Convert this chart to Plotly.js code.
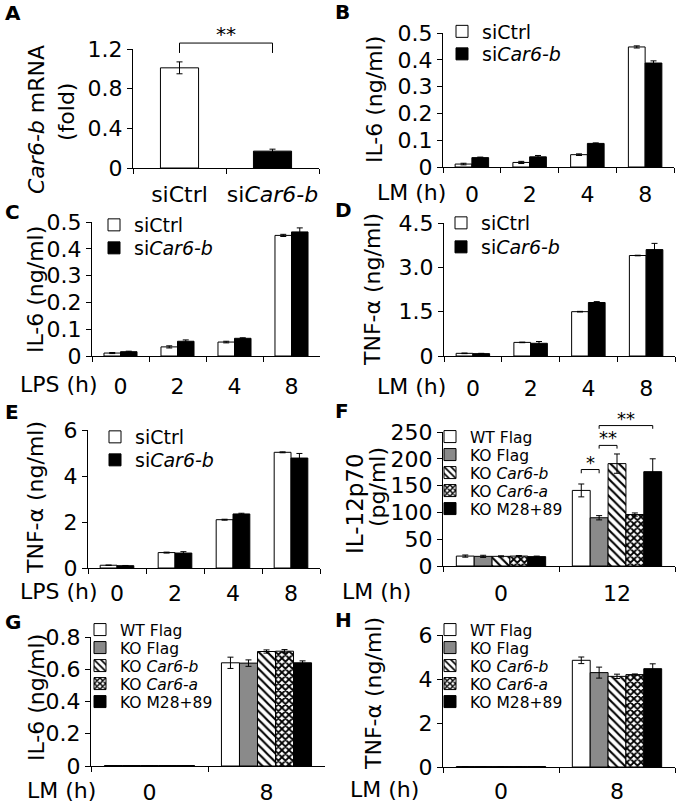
<!DOCTYPE html>
<html>
<head>
<meta charset="utf-8">
<script src="https://cdn.plot.ly/plotly-3.0.1.min.js"></script>
<style>
html, body { margin: 0; padding: 0; background: #ffffff; }
#chart { width: 677px; height: 806px; }
</style>
</head>
<body>
<div id="chart"></div>
<script>
// ================= DATA =================
const siNames = ['siCtrl', 'si<i>Car6-b</i>'];
const koNames = ['WT Flag', 'KO Flag', 'KO <i>Car6-b</i>', 'KO <i>Car6-a</i>', 'KO M28+89'];

// A: Car6-b mRNA (fold)
const catsA = ['siCtrl', 'si<i>Car6-b</i>'];
const mrnaA = [1.01, 0.17];
const mrnaErrA = [0.06, 0.02];

// B: IL-6 (ng/ml), LM
const hoursB = ['0', '2', '4', '8'];
const il6LM_siCtrl = [0.011, 0.017, 0.046, 0.448];
const il6LM_siCtrlErr = [0.003, 0.004, 0.003, 0.004];
const il6LM_siCar = [0.035, 0.038, 0.088, 0.388];
const il6LM_siCarErr = [0.002, 0.005, 0.002, 0.008];

// C: IL-6 (ng/ml), LPS
const hoursC = ['0', '2', '4', '8'];
const il6LPS_siCtrl = [0.011, 0.034, 0.052, 0.450];
const il6LPS_siCtrlErr = [0.002, 0.004, 0.003, 0.004];
const il6LPS_siCar = [0.016, 0.055, 0.066, 0.463];
const il6LPS_siCarErr = [0.002, 0.005, 0.002, 0.015];

// D: TNF-a (ng/ml), LM
const hoursD = ['0', '2', '4', '8'];
const tnfLM_siCtrl = [0.09, 0.46, 1.50, 3.40];
const tnfLM_siCtrlErr = [0.01, 0.01, 0.01, 0.01];
const tnfLM_siCar = [0.08, 0.43, 1.81, 3.60];
const tnfLM_siCarErr = [0.01, 0.06, 0.03, 0.21];

// E: TNF-a (ng/ml), LPS
const hoursE = ['0', '2', '4', '8'];
const tnfLPS_siCtrl = [0.12, 0.67, 2.10, 5.03];
const tnfLPS_siCtrlErr = [0.01, 0.02, 0.02, 0.02];
const tnfLPS_siCar = [0.10, 0.65, 2.35, 4.78];
const tnfLPS_siCarErr = [0.01, 0.06, 0.03, 0.20];

// F: IL-12p70 (pg/ml), LM
const hoursF = ['0', '12'];
const il12_WT = [18.5, 141];   const il12_WTErr = [2, 12];
const il12_KO = [18, 90];      const il12_KOErr = [2, 4];
const il12_KOb = [18, 191];    const il12_KObErr = [1, 18];
const il12_KOa = [18.5, 96];   const il12_KOaErr = [1, 3];
const il12_M = [17.5, 176];    const il12_MErr = [1, 24];

// G: IL-6 (ng/ml), LM
const hoursG = ['0', '8'];
const il6_WT = [0.003, 0.640];  const il6_WTErr = [0, 0.035];
const il6_KO = [0.003, 0.638];  const il6_KOErr = [0, 0.02];
const il6_KOb = [0.003, 0.710]; const il6_KObErr = [0, 0.01];
const il6_KOa = [0.003, 0.712]; const il6_KOaErr = [0, 0.01];
const il6_M = [0.003, 0.640];   const il6_MErr = [0, 0.012];

// H: TNF-a (ng/ml), LM
const hoursH = ['0', '8'];
const tnf_WT = [0.02, 4.85];  const tnf_WTErr = [0, 0.15];
const tnf_KO = [0.02, 4.29];  const tnf_KOErr = [0, 0.25];
const tnf_KOb = [0.02, 4.12]; const tnf_KObErr = [0, 0.10];
const tnf_KOa = [0.02, 4.20]; const tnf_KOaErr = [0, 0.03];
const tnf_M = [0.02, 4.47];   const tnf_MErr = [0, 0.22];

// tick labels
const ticksA = [0, 0.4, 0.8, 1.2];            const tickTextA = ['0', '0.4', '0.8', '1.2'];
const ticksIL6 = [0, 0.1, 0.2, 0.3, 0.4, 0.5]; const tickTextIL6 = ['0', '0.1', '0.2', '0.3', '0.4', '0.5'];
const ticksD = [0, 1.5, 3, 4.5];              const tickTextD = ['0', '1.5', '3.0', '4.5'];
const ticksE = [0, 2, 4, 6];                  const tickTextE = ['0', '2', '4', '6'];
const ticksF = [0, 50, 100, 150, 200, 250];   const tickTextF = ['0', '50', '100', '150', '200', '250'];
const ticksG = [0, 0.2, 0.4, 0.6, 0.8];       const tickTextG = ['0', '0.2', '0.4', '0.6', '0.8'];
const ticksH = [0, 2, 4, 6];                  const tickTextH = ['0', '2', '4', '6'];

// significance brackets (bar indices, bracket height and drop in data units)
const sigA = [{cat0: 0, cat1: 1, y: 1.26, drop: 0.10, label: '**'}];
const sigF = [
  {cat: 1, from: 0, to: 1, y: 180, drop: 7, label: '*'},
  {cat: 1, from: 1, to: 2, y: 225, drop: 6, label: '**'},
  {cat: 1, from: 1, to: 4, y: 262, drop: 6, label: '**'}
];

// ================= LAYOUT HELPERS =================
const W = 677, H = 806;
const FONT = 'DejaVu Sans, sans-serif';
const TICK_FS = 22;
const suf = i => (i === 1 ? '' : String(i));

// plot boxes in px: [left, right, top, bottom]
const P = {
  A: {i: 1, box: [133, 319, 49, 168], range: [0, 1.2], tv: ticksA, tt: tickTextA, cap: 15},
  B: {i: 2, box: [443, 674, 33, 167], range: [0, 0.5], tv: ticksIL6, tt: tickTextIL6, cap: 16},
  C: {i: 3, box: [92, 320, 222, 356], range: [0, 0.5], tv: ticksIL6, tt: tickTextIL6, cap: 19},
  D: {i: 4, box: [444, 675, 223, 356], range: [0, 4.5], tv: ticksD, tt: tickTextD, cap: 21},
  E: {i: 5, box: [88, 320, 430, 568], range: [0, 6], tv: ticksE, tt: tickTextE, cap: 14},
  F: {i: 6, box: [443, 675, 432, 566], range: [0, 250], tv: ticksF, tt: tickTextF, cap: 16},
  G: {i: 7, box: [91, 325, 637, 766], range: [0, 0.8], tv: ticksG, tt: tickTextG, cap: 15},
  H: {i: 8, box: [443, 675, 635, 767], range: [0, 6], tv: ticksH, tt: tickTextH, cap: 13}
};

const FILL = {
  white: {color: '#ffffff'},
  black: {color: '#000000'},
  gray: {color: '#8a8a8a'},
  diag: {color: '#ffffff', pattern: {shape: '\\', fgcolor: '#000000', bgcolor: '#ffffff', size: 6, solidity: 0.35, fillmode: 'replace'}},
  check: {color: '#ffffff', pattern: {shape: 'x', fgcolor: '#000000', bgcolor: '#ffffff', size: 5, solidity: 0.6, fillmode: 'replace'}}
};
const siFills = [FILL.white, FILL.black];
const koFills = [FILL.white, FILL.gray, FILL.diag, FILL.check, FILL.black];

const traces = [];
const legends = {};
let nLeg = 0;
function newLegend(cx, cy, fs, shift) {
  nLeg += 1;
  const key = nLeg === 1 ? 'legend' : 'legend' + nLeg;
  legends[key] = {
    x: (cx - 20 - shift) / W, xanchor: 'left',
    y: 1 - cy / H, yanchor: 'middle',
    bgcolor: 'rgba(0,0,0,0)', borderwidth: 0,
    font: {family: FONT, size: fs, color: '#000'},
    itemclick: false, itemdoubleclick: false
  };
  return key;
}

function addGroup(p, cats, vals, errs, names, fills, w, rows, fs, shift) {
  const n = vals.length;
  vals.forEach((v, k) => {
    const key = rows ? newLegend(rows[k][0], rows[k][1], fs, shift) : null;
    traces.push({
      type: 'bar', x: cats, y: v, name: names[k],
      xaxis: 'x' + suf(p.i), yaxis: 'y' + suf(p.i),
      width: w, offset: -n * w / 2 + k * w,
      marker: Object.assign({line: {color: '#000', width: 1}}, fills[k]),
      error_y: {type: 'data', array: errs[k], visible: true, color: '#000', thickness: 1, width: 3},
      showlegend: !!key, legend: key || 'legend', hoverinfo: 'skip'
    });
  });
}

// ---------- traces ----------
traces.push({
  type: 'bar', x: catsA, y: mrnaA, width: 0.41,
  xaxis: 'x', yaxis: 'y',
  marker: {color: [FILL.white.color, FILL.black.color], line: {color: '#000', width: 1}},
  error_y: {type: 'data', array: mrnaErrA, visible: true, color: '#000', thickness: 1, width: 3},
  showlegend: false, hoverinfo: 'skip'
});

const W2 = 0.29, W5 = 0.154;
const LEG2 = 19, LEG5 = 15.5;
addGroup(P.B, hoursB, [il6LM_siCtrl, il6LM_siCar], [il6LM_siCtrlErr, il6LM_siCarErr], siNames, siFills, W2,
  [[464, 31.5], [464, 54]], LEG2, 2);
addGroup(P.C, hoursC, [il6LPS_siCtrl, il6LPS_siCar], [il6LPS_siCtrlErr, il6LPS_siCarErr], siNames, siFills, W2,
  [[116, 225], [116, 248]], LEG2, 2);
addGroup(P.D, hoursD, [tnfLM_siCtrl, tnfLM_siCar], [tnfLM_siCtrlErr, tnfLM_siCarErr], siNames, siFills, W2,
  [[463, 223], [463, 247]], LEG2, 2);
addGroup(P.E, hoursE, [tnfLPS_siCtrl, tnfLPS_siCar], [tnfLPS_siCtrlErr, tnfLPS_siCarErr], siNames, siFills, W2,
  [[117, 437], [117, 460]], LEG2, 2);
addGroup(P.F, hoursF, [il12_WT, il12_KO, il12_KOb, il12_KOa, il12_M],
  [il12_WTErr, il12_KOErr, il12_KObErr, il12_KOaErr, il12_MErr], koNames, koFills, W5,
  [[454, 437], [454, 455], [454, 473], [454, 491], [454, 509]], LEG5, 4);
addGroup(P.G, hoursG, [il6_WT, il6_KO, il6_KOb, il6_KOa, il6_M],
  [il6_WTErr, il6_KOErr, il6_KObErr, il6_KOaErr, il6_MErr], koNames, koFills, W5,
  [[104, 630], [104, 648], [104, 666], [104, 684], [104, 702]], LEG5, 4);
addGroup(P.H, hoursH, [tnf_WT, tnf_KO, tnf_KOb, tnf_KOa, tnf_M],
  [tnf_WTErr, tnf_KOErr, tnf_KObErr, tnf_KOaErr, tnf_MErr], koNames, koFills, W5,
  [[454, 630], [454, 648], [454, 666], [454, 684], [454, 702]], LEG5, 4);

// ---------- axes ----------
const axes = {};
Object.values(P).forEach(p => {
  const nCat = p.i === 1 ? catsA.length : (p.i <= 5 ? 4 : 2);
  axes['xaxis' + suf(p.i)] = {
    domain: [p.box[0] / W, p.box[1] / W], anchor: 'y' + suf(p.i),
    type: 'category', range: [-0.5, nCat - 0.5],
    showline: true, linecolor: '#000', linewidth: 1,
    ticks: 'outside', tickson: 'boundaries', ticklen: 5, tickwidth: 1, tickcolor: '#000',
    tickangle: 0,
    tickfont: {family: FONT, size: TICK_FS, color: '#000'},
    ticklabelstandoff: p.cap - 8,
    showgrid: false, zeroline: false, fixedrange: true
  };
  axes['yaxis' + suf(p.i)] = {
    domain: [1 - p.box[3] / H, 1 - p.box[2] / H], anchor: 'x' + suf(p.i),
    range: p.range, tickmode: 'array', tickvals: p.tv, ticktext: p.tt,
    showline: true, linecolor: '#000', linewidth: 1,
    ticks: 'outside', ticklen: 5, tickwidth: 1, tickcolor: '#000',
    tickfont: {family: FONT, size: TICK_FS, color: '#000'},
    showgrid: false, zeroline: false, fixedrange: true
  };
});

// ---------- annotations ----------
const annotations = [];
const txt = (text, x, y, o) => annotations.push(Object.assign({
  text: text, x: x / W, y: 1 - y / H, xref: 'paper', yref: 'paper', showarrow: false,
  xanchor: 'center', yanchor: 'middle', font: {family: FONT, size: 22, color: '#000'}
}, o || {}));

// panel letters
[['A', 3, 13], ['B', 333, 12], ['C', 3, 212], ['D', 333, 210],
 ['E', 3, 412], ['F', 333, 411], ['G', 3, 622], ['H', 333, 620]].forEach(l =>
  txt('<b>' + l[0] + '</b>', l[1], l[2], {xanchor: 'left', font: {family: FONT, size: 20, color: '#000'}}));

// y titles
[['<i>Car6-b</i> mRNA', 37, 120, 22], ['(fold)', 67, 112, 22],
 ['IL-6 (ng/ml)', 374, 100, 22], ['IL-6 (ng/ml)', 36, 290, 22],
 ['TNF-α (ng/ml)', 373, 290, 22], ['TNF-α (ng/ml)', 36, 498, 22],
 ['IL-12p70', 355, 504, 23], ['(pg/ml)', 377, 487, 22],
 ['IL-6 (ng/ml)', 36, 698, 22], ['TNF-α (ng/ml)', 373, 694, 22]].forEach(t =>
  txt(t[0], t[1], t[2], {textangle: -90, font: {family: FONT, size: t[3], color: '#000'}}));

// x-axis prefixes
[['LM (h)', 448, P.B], ['LPS (h)', 100, P.C], ['LM (h)', 448, P.D], ['LPS (h)', 100, P.E],
 ['LM (h)', 413, P.F], ['LM (h)', 98, P.G], ['LM (h)', 421, P.H]].forEach(t =>
  txt(t[0], t[1], t[2].box[3] + t[2].cap + 9, {xanchor: 'right'}));

// ---------- significance brackets ----------
const shapes = [];
const seg = (xr, yr, x0, x1, y0, y1) => shapes.push({
  type: 'line', xref: xr, yref: yr, x0: x0, x1: x1, y0: y0, y1: y1,
  line: {color: '#000', width: 1}
});
sigA.forEach(s => {
  const yr = 'y domain', top = s.y / P.A.range[1], bot = (s.y - s.drop) / P.A.range[1];
  seg('x', yr, s.cat0, s.cat1, top, top);
  seg('x', yr, s.cat0, s.cat0, bot, top);
  seg('x', yr, s.cat1, s.cat1, bot, top);
  annotations.push({text: s.label, xref: 'x', yref: yr, x: (s.cat0 + s.cat1) / 2, y: top,
    yanchor: 'bottom', yshift: -5, showarrow: false, font: {family: FONT, size: 20, color: '#000'}});
});
sigF.forEach(s => {
  const n = 5, xr = 'x6', yr = 'y6 domain';
  const pos = k => s.cat - n * W5 / 2 + k * W5 + W5 / 2;
  const x0 = pos(s.from), x1 = pos(s.to);
  const top = s.y / P.F.range[1], bot = (s.y - s.drop) / P.F.range[1];
  seg(xr, yr, x0, x1, top, top);
  seg(xr, yr, x0, x0, bot, top);
  seg(xr, yr, x1, x1, bot, top);
  annotations.push({text: s.label, xref: xr, yref: yr, x: (x0 + x1) / 2, y: top,
    yanchor: 'bottom', yshift: -5, showarrow: false, font: {family: FONT, size: 18, color: '#000'}});
});

const layout = Object.assign({
  width: W, height: H, margin: {l: 0, r: 0, t: 0, b: 0},
  paper_bgcolor: '#ffffff', plot_bgcolor: 'rgba(0,0,0,0)',
  barmode: 'overlay', showlegend: true, hovermode: false,
  font: {family: FONT, size: 20, color: '#000'},
  annotations: annotations, shapes: shapes
}, axes, legends);

Plotly.newPlot('chart', traces, layout, {staticPlot: true, displayModeBar: false});
</script>
</body>
</html>
